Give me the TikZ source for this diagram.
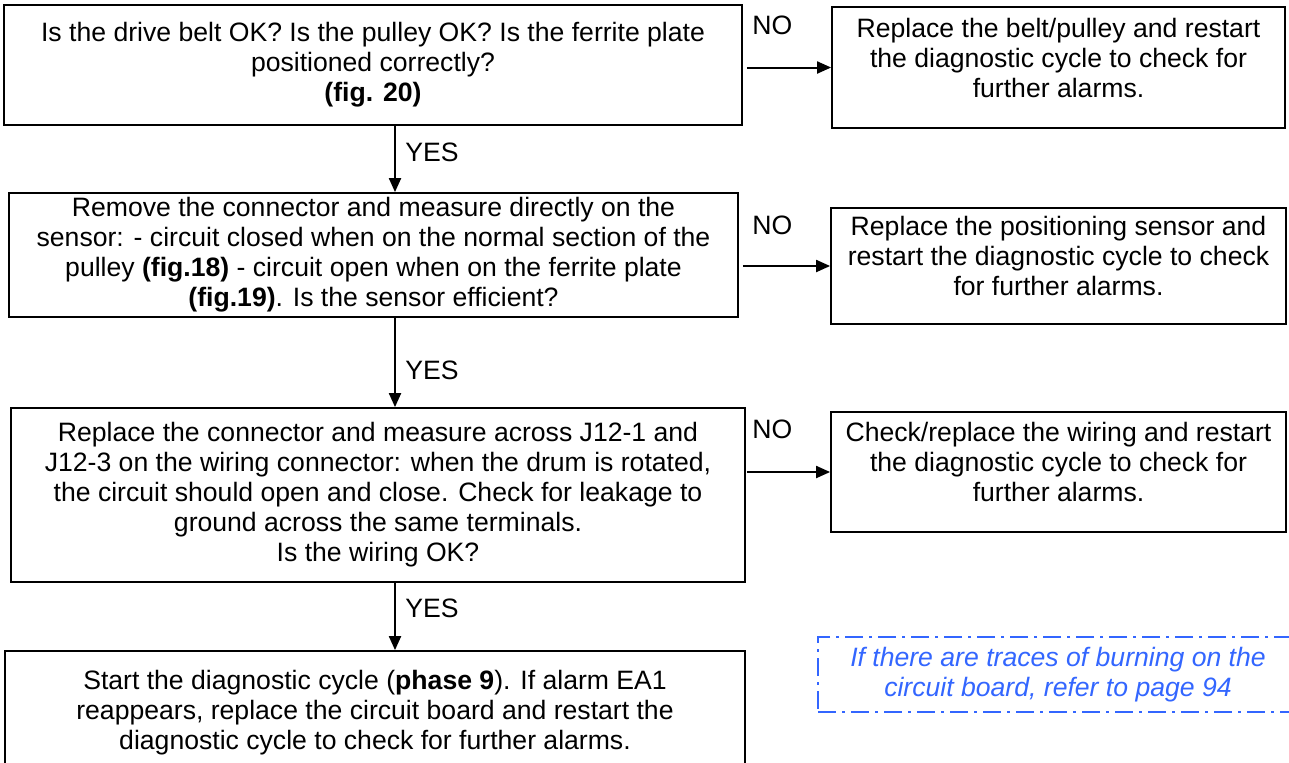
\documentclass[tikz,border=0pt]{standalone}
\usepackage{fontspec}
\setmainfont{Liberation Sans}
\usetikzlibrary{arrows.meta,positioning}
\definecolor{noteblue}{HTML}{3366FF}
\tikzset{every node/.style={font=\fontsize{13.3}{15}\selectfont},
  qbox/.style={draw=black,line width=0.9pt,align=center,inner sep=0pt},
  fixbox/.style={draw=black,line width=0.9pt,align=center,inner sep=0pt,
    text depth=10pt},
  ans/.style={inner sep=0pt,anchor=west},
  notebox/.style={draw=noteblue,line width=0.9pt,
    dash pattern=on 9pt off 3pt on 1.5pt off 3pt,text=noteblue,align=center,
    font=\fontsize{13.3}{15}\selectfont\itshape}}

\begin{document}
\begin{tikzpicture}[x=0.5pt,y=-0.5pt,
    arr/.style={draw=black,line width=1pt,-{Triangle[length=7pt,width=6pt]}}]
  \path[use as bounding box] (0,0) rectangle (1289,762);

  % Checks
  \node[qbox,minimum width=369pt,minimum height=60pt] (q1) at (373,65)
    {Is the drive belt OK? Is the pulley OK? Is the ferrite plate\\
     positioned correctly?\\ \textbf{(fig. 20)}};
  \node[qbox,minimum width=364.5pt,minimum height=62pt] (q2) at (373.5,255)
    {Remove the connector and measure directly on the\\
     sensor: - circuit closed when on the normal section of the\\
     pulley \textbf{(fig.18)} - circuit open when on the ferrite plate\\
     \textbf{(fig.19)}. Is the sensor efficient?};
  \node[qbox,minimum width=367pt,minimum height=87pt] (q3) at (378,495)
    {Replace the connector and measure across J12-1 and\\
     J12-3 on the wiring connector: when the drum is rotated,\\
     the circuit should open and close. Check for leakage to\\
     ground across the same terminals.\\ Is the wiring OK?};
  \node[qbox,minimum width=370pt,minimum height=62pt] (q4) at (375,713)
    {Start the diagnostic cycle (\textbf{phase 9}). If alarm EA1\\
     reappears, replace the circuit board and restart the\\
     diagnostic cycle to check for further alarms.};

  % Repairs
  \node[fixbox,minimum width=226.5pt,minimum height=60.5pt] (r1) at (1058.5,67.5)
    {Replace the belt/pulley and restart\\
     the diagnostic cycle to check for\\ further alarms.};
  \node[fixbox,minimum width=227.5pt,minimum height=58pt] (r2) at (1058.5,266)
    {Replace the positioning sensor and\\
     restart the diagnostic cycle to check\\ for further alarms.};
  \node[fixbox,minimum width=227.5pt,minimum height=60pt] (r3) at (1058.5,472)
    {Check/replace the wiring and restart\\
     the diagnostic cycle to check for\\ further alarms.};

  % Note
  \node[notebox,minimum width=240pt,minimum height=37.5pt] (note) at (1058,674.5)
    {If there are traces of burning on the\\ circuit board, refer to page 94};

  % YES path
  \coordinate (yx) at (395,0);
  \draw[arr] (q1.south -| yx) -- (q2.north -| yx);
  \draw[arr] (q2.south -| yx) -- (q3.north -| yx);
  \draw[arr] (q3.south -| yx) -- (q4.north -| yx);
  \node[ans] (y1) at (405,152) {YES};
  \node[ans] (y2) at (405,370) {YES};
  \node[ans] (y3) at (405,608) {YES};

  % NO path
  \draw[arr,shorten <=2pt] (q1.east |- r1.west) -- (r1.west);
  \draw[arr,shorten <=2pt] (q2.east |- r2.west) -- (r2.west);
  \draw[arr,shorten <=0.5pt] (q3.east |- r3.west) -- (r3.west);
  \node[ans] (n1) at (752,25) {NO};
  \node[ans] (n2) at (752,225) {NO};
  \node[ans] (n3) at (752,429) {NO};
\end{tikzpicture}
\end{document}
